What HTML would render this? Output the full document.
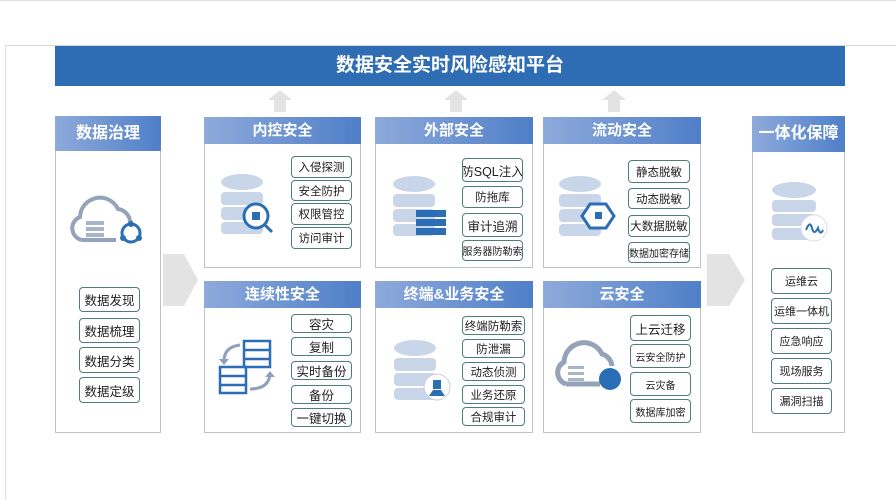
<!DOCTYPE html>
<html><head><meta charset="utf-8"><style>
*{margin:0;padding:0;box-sizing:border-box}
body{width:896px;height:500px;background:#fff;position:relative;overflow:hidden;font-family:"Liberation Sans","Noto Sans CJK SC",sans-serif}
.a{position:absolute}
.hd{position:absolute;color:#fff;font-weight:bold;font-size:15px;text-align:center;background:linear-gradient(90deg,#8eaadb,#4f7fc8)}
.bx{position:absolute;border:1px solid #bfc3c8;background:#fff}
.t{position:absolute;border:1px solid #4f7d7a;border-radius:4px;background:#fff;font-size:11.5px;color:#222;text-align:center;white-space:nowrap;overflow:hidden;display:flex;align-items:center;justify-content:center}
</style></head><body>
<div class="a" style="left:0;top:0;width:896px;height:1px;background:#e0e0e0"></div>
<div class="a" style="left:5px;top:45px;width:891px;height:1px;background:#d8d8d8"></div>
<div class="a" style="left:5px;top:45px;width:1px;height:455px;background:#e0e0e0"></div>
<div class="a" style="left:55px;top:46px;width:790px;height:40px;background:#2e6db4;color:#fff;font-weight:bold;font-size:19px;text-align:center;line-height:40px">数据安全实时风险感知平台</div>

<svg class="a" style="left:0;top:0" width="896" height="500">
<g fill="#e3e3e3">
<polygon points="280,90 292,100 286,100 286,112 274,112 274,100 268,100"/>
<polygon points="456,90 468,100 462,100 462,112 450,112 450,100 444,100"/>
<polygon points="614,90 626,100 620,100 620,112 608,112 608,100 602,100"/>
<polygon points="163,254 184,254 198,280 184,306 163,306"/>
<polygon points="707,254 729,254 745,280 729,306 707,306"/>
</g>
</svg>

<!-- Left column -->
<div class="bx" style="left:55px;top:116px;width:106px;height:317px"></div>
<div class="hd" style="left:55px;top:116px;width:106px;height:35px;line-height:35px;font-size:16px">数据治理</div>
<svg class="a" style="left:68px;top:195px" width="80" height="55">
<path d="M14,45 A12,12 0 0 1 12,22 A20,20 0 0 1 50,14 A14,14 0 0 1 62,30" fill="none" stroke="#94a3b8" stroke-width="4"/>
<path d="M14,45 L48,45" stroke="#94a3b8" stroke-width="4"/>
<rect x="18" y="26" width="18" height="4" fill="#a8b4c8"/><rect x="18" y="32" width="18" height="4" fill="#a8b4c8"/><rect x="18" y="38" width="18" height="4" fill="#a8b4c8"/>
<circle cx="63" cy="38" r="9" fill="none" stroke="#2a6fb5" stroke-width="3"/>
<circle cx="63" cy="29" r="3" fill="#2a6fb5"/><circle cx="55" cy="43" r="3" fill="#2a6fb5"/><circle cx="71" cy="43" r="3" fill="#2a6fb5"/>
</svg>
<div class="t" style="left:79px;top:287px;width:61px;height:25px;font-size:12.5px">数据发现</div>
<div class="t" style="left:79px;top:318px;width:61px;height:25px;font-size:12.5px">数据梳理</div>
<div class="t" style="left:79px;top:347px;width:61px;height:26px;font-size:12.5px">数据分类</div>
<div class="t" style="left:79px;top:377px;width:61px;height:26px;font-size:12.5px">数据定级</div>

<!-- Right column -->
<div class="bx" style="left:752px;top:116px;width:93px;height:317px"></div>
<div class="hd" style="left:752px;top:116px;width:93px;height:36px;line-height:36px;font-size:16px">一体化保障</div>
<svg class="a" style="left:770px;top:180px" width="60" height="70">
<g fill="#c9d5e8"><ellipse cx="24" cy="10" rx="22" ry="8"/><rect x="2" y="20" width="44" height="12" rx="4"/><rect x="2" y="34" width="44" height="12" rx="4"/><rect x="2" y="48" width="44" height="12" rx="4"/></g>
<circle cx="44" cy="48" r="13" fill="#fff" stroke="#dde" stroke-width="1"/>
<path d="M36,50 Q40,40 42,48 T48,48 Q50,56 53,50" fill="none" stroke="#2a6fb5" stroke-width="2"/>
</svg>
<div class="t" style="left:771px;top:268px;width:61px;height:26px;font-size:11px">运维云</div>
<div class="t" style="left:771px;top:298px;width:61px;height:26px;font-size:11px">运维一体机</div>
<div class="t" style="left:771px;top:328px;width:61px;height:26px;font-size:11px">应急响应</div>
<div class="t" style="left:771px;top:358px;width:61px;height:26px;font-size:11px">现场服务</div>
<div class="t" style="left:771px;top:388px;width:61px;height:26px;font-size:11px">漏洞扫描</div>

<!-- 内控安全 -->
<div class="bx" style="left:204px;top:117px;width:157px;height:151px"></div>
<div class="hd" style="left:204px;top:117px;width:157px;height:27px;line-height:27px">内控安全</div>
<svg class="a" style="left:220px;top:172px" width="60" height="70">
<g fill="#c9d5e8"><ellipse cx="22" cy="10" rx="21" ry="8"/><rect x="1" y="20" width="42" height="13" rx="4"/><rect x="1" y="35" width="42" height="13" rx="4"/><rect x="1" y="50" width="42" height="12" rx="4"/></g>
<circle cx="36" cy="44" r="12" fill="#fff" stroke="#2a6fb5" stroke-width="3"/><line x1="44" y1="52" x2="52" y2="60" stroke="#2a6fb5" stroke-width="3"/><rect x="32" y="40" width="8" height="8" fill="#2a6fb5"/>
</svg>
<div class="t" style="left:291px;top:156px;width:61px;height:22px">入侵探测</div>
<div class="t" style="left:291px;top:180px;width:61px;height:21px">安全防护</div>
<div class="t" style="left:291px;top:203px;width:61px;height:22px">权限管控</div>
<div class="t" style="left:291px;top:227px;width:61px;height:22px">访问审计</div>

<!-- 外部安全 -->
<div class="bx" style="left:375px;top:117px;width:158px;height:151px"></div>
<div class="hd" style="left:375px;top:117px;width:158px;height:27px;line-height:27px">外部安全</div>
<svg class="a" style="left:392px;top:174px" width="60" height="70">
<g fill="#c9d5e8"><ellipse cx="22" cy="10" rx="21" ry="8"/><rect x="1" y="20" width="42" height="13" rx="4"/><rect x="1" y="35" width="42" height="13" rx="4"/><rect x="1" y="50" width="42" height="12" rx="4"/></g>
<g fill="#2a6fb5"><rect x="24" y="36" width="30" height="7"/><rect x="24" y="45" width="30" height="7"/><rect x="24" y="54" width="30" height="7"/></g>
</svg>
<div class="t" style="left:462px;top:158px;width:61px;height:24px;font-size:12.5px">防SQL注入</div>
<div class="t" style="left:462px;top:186px;width:61px;height:22px">防拖库</div>
<div class="t" style="left:462px;top:213px;width:61px;height:24px;font-size:12.5px">审计追溯</div>
<div class="t" style="left:462px;top:240px;width:61px;height:21px;font-size:10px">服务器防勒索</div>

<!-- 流动安全 -->
<div class="bx" style="left:543px;top:117px;width:158px;height:151px"></div>
<div class="hd" style="left:543px;top:117px;width:158px;height:27px;line-height:27px">流动安全</div>
<svg class="a" style="left:558px;top:174px" width="60" height="70">
<g fill="#c9d5e8"><ellipse cx="22" cy="10" rx="21" ry="8"/><rect x="1" y="20" width="42" height="13" rx="4"/><rect x="1" y="35" width="42" height="13" rx="4"/><rect x="1" y="50" width="42" height="12" rx="4"/></g>
<polygon points="32,30 48,30 56,42 48,54 32,54 24,42" fill="#fff" stroke="#2a6fb5" stroke-width="3"/><rect x="37" y="38" width="7" height="7" fill="#2a6fb5"/>
</svg>
<div class="t" style="left:628px;top:160px;width:62px;height:23px">静态脱敏</div>
<div class="t" style="left:628px;top:188px;width:62px;height:21px">动态脱敏</div>
<div class="t" style="left:628px;top:215px;width:62px;height:22px">大数据脱敏</div>
<div class="t" style="left:628px;top:242px;width:62px;height:21px;font-size:10px">数据加密存储</div>

<!-- 连续性安全 -->
<div class="bx" style="left:204px;top:281px;width:157px;height:152px"></div>
<div class="hd" style="left:204px;top:281px;width:157px;height:27px;line-height:27px">连续性安全</div>
<svg class="a" style="left:218px;top:335px" width="60" height="70">
<g fill="none" stroke="#2a6fb5" stroke-width="2.5"><rect x="26" y="6" width="26" height="26"/><line x1="26" y1="15" x2="52" y2="15"/><line x1="26" y1="24" x2="52" y2="24"/><rect x="2" y="32" width="26" height="26"/><line x1="2" y1="41" x2="28" y2="41"/><line x1="2" y1="50" x2="28" y2="50"/></g>
<path d="M22,10 Q6,12 6,26" fill="none" stroke="#8ea0bb" stroke-width="3"/><polygon points="1,24 11,24 6,30" fill="#8ea0bb"/>
<path d="M32,54 Q50,54 52,40" fill="none" stroke="#8ea0bb" stroke-width="3"/><polygon points="47,42 57,42 52,36" fill="#8ea0bb"/>
</svg>
<div class="t" style="left:291px;top:314px;width:61px;height:19px;font-size:12.5px">容灾</div>
<div class="t" style="left:291px;top:337px;width:61px;height:19px;font-size:12.5px">复制</div>
<div class="t" style="left:291px;top:361px;width:61px;height:19px;font-size:12.5px">实时备份</div>
<div class="t" style="left:291px;top:385px;width:61px;height:19px;font-size:12.5px">备份</div>
<div class="t" style="left:291px;top:408px;width:61px;height:19px;font-size:12.5px">一键切换</div>

<!-- 终端&业务安全 -->
<div class="bx" style="left:375px;top:281px;width:158px;height:152px"></div>
<div class="hd" style="left:375px;top:281px;width:158px;height:27px;line-height:27px">终端&amp;业务安全</div>
<svg class="a" style="left:393px;top:338px" width="60" height="70">
<g fill="#c9d5e8"><ellipse cx="22" cy="10" rx="21" ry="8"/><rect x="1" y="20" width="42" height="13" rx="4"/><rect x="1" y="35" width="42" height="13" rx="4"/><rect x="1" y="50" width="42" height="12" rx="4"/></g>
<circle cx="44" cy="49" r="13" fill="#fff" stroke="#ccd" stroke-width="1"/><rect x="40" y="42" width="8" height="9" fill="#2a6fb5"/><polygon points="36,58 52,58 48,52 40,52" fill="#2a6fb5"/>
</svg>
<div class="t" style="left:462px;top:316px;width:63px;height:19px">终端防勒索</div>
<div class="t" style="left:462px;top:339px;width:63px;height:19px">防泄漏</div>
<div class="t" style="left:462px;top:362px;width:63px;height:19px">动态侦测</div>
<div class="t" style="left:462px;top:385px;width:63px;height:19px">业务还原</div>
<div class="t" style="left:462px;top:407px;width:63px;height:19px">合规审计</div>

<!-- 云安全 -->
<div class="bx" style="left:543px;top:281px;width:158px;height:152px"></div>
<div class="hd" style="left:543px;top:281px;width:158px;height:27px;line-height:27px">云安全</div>
<svg class="a" style="left:552px;top:340px" width="72" height="55">
<path d="M14,44 A12,12 0 0 1 12,22 A20,20 0 0 1 50,14 A14,14 0 0 1 60,26" fill="none" stroke="#94a3b8" stroke-width="5"/>
<path d="M14,44 L48,44" stroke="#94a3b8" stroke-width="5"/>
<rect x="16" y="26" width="16" height="3" fill="#a8b4c8"/><rect x="16" y="32" width="16" height="3" fill="#a8b4c8"/><rect x="16" y="38" width="16" height="3" fill="#a8b4c8"/>
<circle cx="58" cy="39" r="11" fill="#2a6fb5"/>
</svg>
<div class="t" style="left:630px;top:315px;width:61px;height:26px;font-size:12.5px">上云迁移</div>
<div class="t" style="left:630px;top:344px;width:61px;height:24px;font-size:10px">云安全防护</div>
<div class="t" style="left:630px;top:372px;width:61px;height:24px;font-size:10px">云灾备</div>
<div class="t" style="left:630px;top:399px;width:61px;height:24px;font-size:10px">数据库加密</div>
</body></html>
